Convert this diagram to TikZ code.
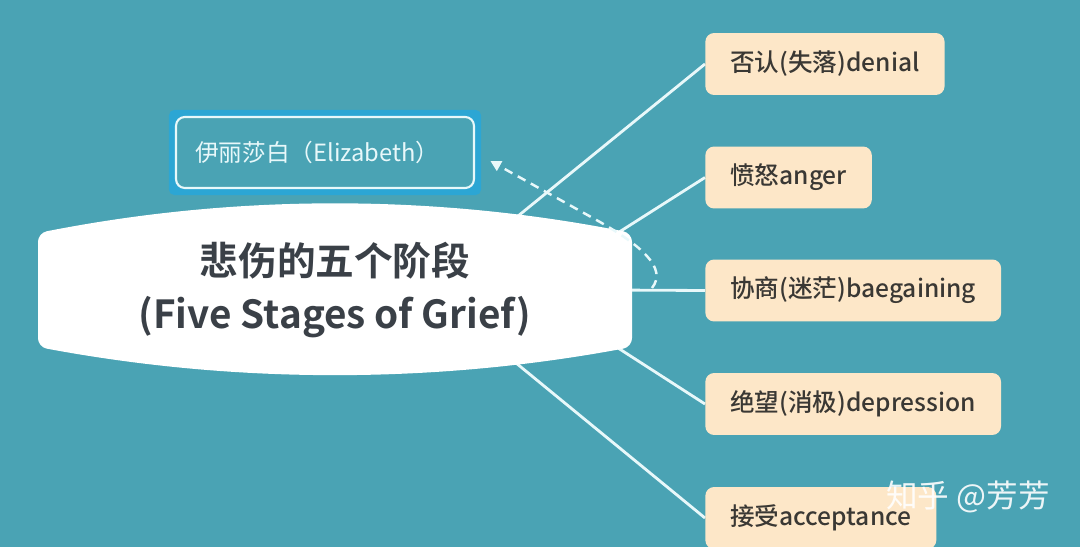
\documentclass[tikz,border=0pt]{standalone}
\usepackage{fontspec}
\setmainfont{Noto Sans CJK SC}[BoldFont={Noto Sans CJK SC Bold}]
\newfontfamily\medfont{Noto Sans CJK SC Medium}
\usetikzlibrary{backgrounds,arrows.meta}

\definecolor{sea}{RGB}{74,163,180}
\definecolor{peach}{RGB}{253,231,200}
\definecolor{ink}{RGB}{58,56,52}
\definecolor{slate}{RGB}{58,64,71}
\definecolor{glow}{RGB}{232,248,250}
\definecolor{hilite}{RGB}{44,166,212}

\tikzset{
    stage/.style={anchor=west, fill=peach, text=ink, rounded corners=5pt,
        minimum height=1.24cm, inner xsep=0.5cm,
        font=\medfont\fontsize{14}{16}\selectfont},
    branch/.style={draw=glow, line width=1.6pt},
    elizabox/.style={draw=glow, fill=sea, text=glow, line width=1.2pt,
        rounded corners=5pt, minimum height=1.42cm, text width=5.2cm,
        inner xsep=0.38cm, align=left, font=\fontsize{13.5}{16}\selectfont},
    title/.style={text=slate, align=center,
        font=\bfseries\fontsize{22}{30}\selectfont}
}

\begin{document}
\begin{tikzpicture}[x=0.02cm, y=-0.02cm]
        \useasboundingbox (0,0) rectangle (1080,547);

        \fill[white, rounded corners=5pt] (38,233) .. controls (236,194) and (434,194) .. (632,233)
            -- (632,347) .. controls (434,384) and (236,384) .. (38,347) -- cycle;
        \node[title] (grief) at (335,290) {悲伤的五个阶段\\(Five Stages of Grief)};

        \coordinate (hubout) at (427,290);
        \coordinate (hubin) at (528,290);
        \coordinate (hubmid) at (610,290);
        \coordinate (loop) at (652,288);

        \node[stage] (denial) at (705,64) {否认(失落)denial};
        \node[stage] (anger) at (705,177.5) {愤怒anger};
        \node[stage] (bargain) at (705,290.5) {协商(迷茫)baegaining};
        \node[stage] (depression) at (705,404) {绝望(消极)depression};
        \node[stage] (acceptance) at (705,518) {接受acceptance};

        \node[elizabox] (eliza) at (325,152.5) {伊丽莎白（Elizabeth）};

        \draw[glow, line width=1.4pt, dash pattern=on 5pt off 3.5pt, shorten >=10pt,
            -{Triangle[length=6pt, width=6pt]}]
            (loop) .. controls (668,268) and (640,245) .. (600,222) -- (eliza.east);

        \node[text=white, opacity=0.9, font=\fontsize{18}{20}\selectfont] (zhihu) at (968,497) {知乎 @芳芳};

        \begin{scope}[on background layer]
            \fill[sea] (0,0) rectangle (1080,547);
            \fill[hilite, rounded corners=3pt] ([shift={(-6,6)}]eliza.south west) rectangle ([shift={(6,-6)}]eliza.north east);
            \draw[branch] (hubout) -- (denial.west);
            \draw[branch] (hubin) -- (anger.west);
            \draw[branch] (hubmid) -- (bargain.west);
            \draw[branch] (hubin) -- (depression.west);
            \draw[branch] (hubout) -- (acceptance.west);
        \end{scope}
    \end{tikzpicture}
\end{document}
